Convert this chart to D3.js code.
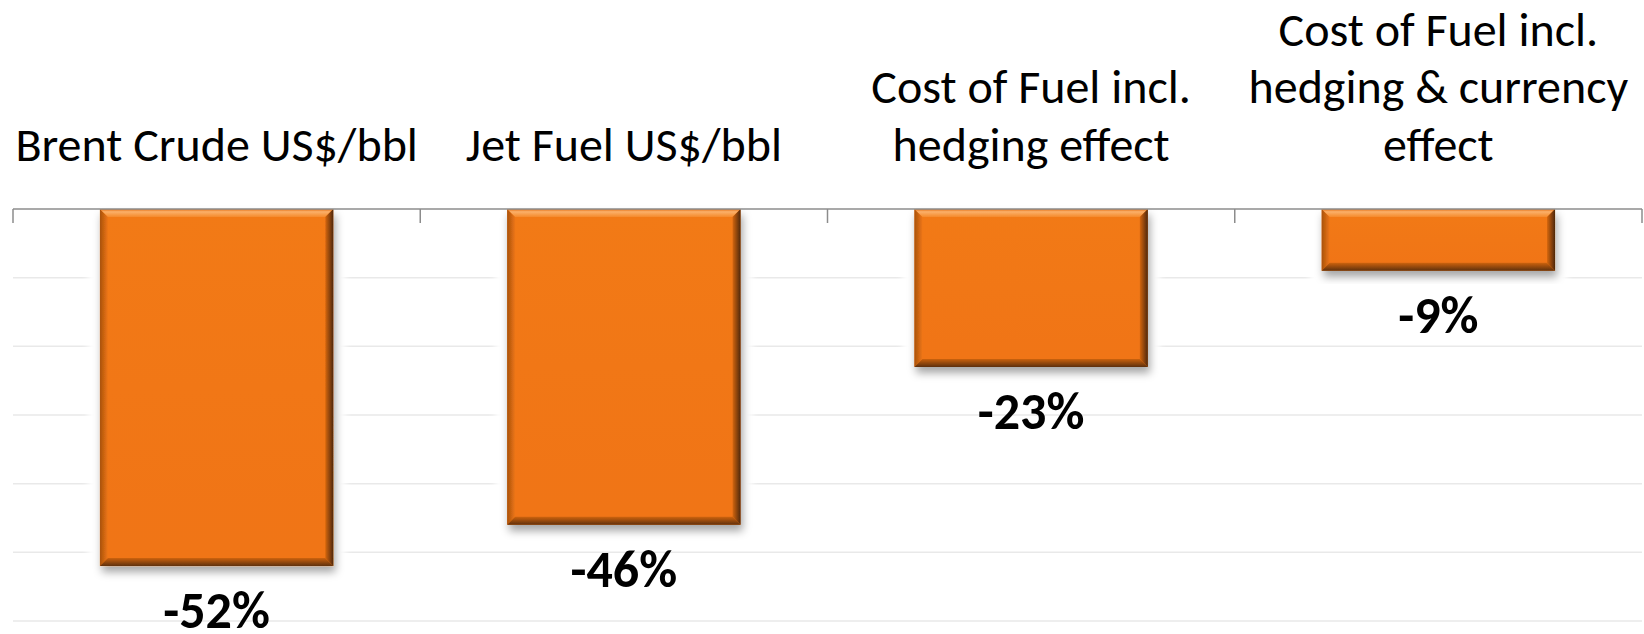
<!DOCTYPE html>
<html>
<head>
<meta charset="utf-8">
<script src="https://cdn.jsdelivr.net/npm/d3@7"></script>
<style>
  html, body { margin: 0; padding: 0; background: #ffffff; }
  svg { display: block; }
</style>
</head>
<body>
<svg id="chart" width="1644" height="634"></svg>
<script>
// ---- data ----
const categories = [
  "Brent Crude US$/bbl",
  "Jet Fuel US$/bbl",
  "Cost of Fuel incl.\nhedging effect",
  "Cost of Fuel incl.\nhedging & currency\neffect"
];
const values = [-52, -46, -23, -9];
const valueLabels = ["-52%", "-46%", "-23%", "-9%"];
const yTicks = [0, -10, -20, -30, -40, -50, -60];

// ---- layout ----
const W = 1644, H = 634;
const left = 13, right = 1642, zeroY = 209, bottomY = 621;
const FONT = "Carlito, Calibri, 'Liberation Sans Narrow', Lato, 'Open Sans', sans-serif";

const svg = d3.select("#chart");
svg.append("rect").attr("width", W).attr("height", H).attr("fill", "#fff");

const x = d3.scaleBand().domain(categories).range([left, right])
  .paddingInner(0.427).paddingOuter(0.2135);
const y = d3.scaleLinear().domain([-60, 0]).range([bottomY, zeroY]);

const defs = svg.append("defs");
function lg(id, x1, y1, x2, y2, stops) {
  const g = defs.append("linearGradient").attr("id", id)
    .attr("x1", x1).attr("y1", y1).attr("x2", x2).attr("y2", y2);
  stops.forEach(s => g.append("stop").attr("offset", s[0]).attr("stop-color", s[1]));
}
lg("gTop", 0, 0, 0, 1, [[0, "#e36d10"], [0.35, "#fbb06a"], [1, "#f58a2a"]]);
lg("gRight", 0, 0, 1, 0, [[0, "#d4660f"], [1, "#4e2706"]]);
lg("gBottom", 0, 0, 0, 1, [[0, "#cc620f"], [1, "#5e3007"]]);
lg("gLeft", 0, 0, 1, 0, [[0, "#a9520c"], [1, "#ee7616"]]);
lg("gBody", 0, 0, 0, 1, [[0, "#f27a18"], [1, "#f07414"]]);

const shadow = defs.append("filter").attr("id", "shadow")
  .attr("x", "-10%").attr("y", "-10%").attr("width", "130%").attr("height", "130%");
shadow.append("feDropShadow").attr("dx", 2).attr("dy", 6).attr("stdDeviation", 4)
  .attr("flood-color", "#000").attr("flood-opacity", 0.35);
const glow = defs.append("filter").attr("id", "glow")
  .attr("x", "-20%").attr("y", "-20%").attr("width", "140%").attr("height", "140%");
glow.append("feGaussianBlur").attr("stdDeviation", 3);

// ---- gridlines ----
svg.append("g").selectAll("line").data(yTicks.filter(d => d !== 0)).join("line")
  .attr("x1", left).attr("x2", right)
  .attr("y1", d => y(d)).attr("y2", d => y(d))
  .attr("stroke", "#e9e9e9").attr("stroke-width", 1.5);

// ---- bars ----
const bars = svg.append("g").selectAll("g").data(values).join("g");
const bx = (d, i) => x(categories[i]);
const bw = x.bandwidth();

// white halo covering gridlines
bars.append("rect")
  .attr("x", (d, i) => bx(d, i) - 12).attr("y", y(0))
  .attr("width", bw + 24).attr("height", d => y(d) - y(0) + 16)
  .attr("fill", "#fff").attr("filter", "url(#glow)");

const bev = 8;
bars.each(function (d, i) {
  const g = d3.select(this).append("g").attr("filter", "url(#shadow)");
  const x0 = bx(d, i), x1 = x0 + bw, y0 = y(0), y1 = y(d);
  const b = Math.min(bev, (y1 - y0) / 3);
  g.append("rect").attr("x", x0).attr("y", y0).attr("width", bw).attr("height", y1 - y0)
    .attr("fill", "url(#gBody)");
  const poly = (pts, fill) => g.append("polygon")
    .attr("points", pts.map(p => p.join(",")).join(" ")).attr("fill", fill);
  poly([[x0, y0], [x0, y1], [x0 + b, y1 - b], [x0 + b, y0 + b]], "url(#gLeft)");
  poly([[x0, y0], [x1, y0], [x1 - b, y0 + b], [x0 + b, y0 + b]], "url(#gTop)");
  poly([[x0, y1], [x1, y1], [x1 - b, y1 - b], [x0 + b, y1 - b]], "url(#gBottom)");
  poly([[x1, y0], [x1, y1], [x1 - b, y1 - b], [x1 - b, y0 + b]], "url(#gRight)");
});

// ---- zero axis with ticks ----
const axisG = svg.append("g");
axisG.append("line").attr("x1", left).attr("x2", right)
  .attr("y1", y(0)).attr("y2", y(0)).attr("stroke", "#8c8c8c").attr("stroke-width", 1.5);
const boundaries = categories.map(c => x(c) - x.step() * x.paddingInner() / 2)
  .concat([right]);
boundaries[0] = left;
axisG.selectAll("line.tick").data(boundaries).join("line").attr("class", "tick")
  .attr("x1", d => d).attr("x2", d => d)
  .attr("y1", y(0)).attr("y2", y(0) + 14)
  .attr("stroke", "#8c8c8c").attr("stroke-width", 1.5);

// ---- category labels ----
const lineH = 57.7, lastBase = 161;
const catG = svg.append("g");
categories.forEach((c, i) => {
  const lines = c.split("\n");
  const t = catG.append("text")
    .attr("x", x(c) + bw / 2).attr("text-anchor", "middle")
    .attr("font-family", FONT).attr("font-size", 48).attr("fill", "#000");
  lines.forEach((ln, k) => {
    t.append("tspan").attr("x", x(c) + bw / 2)
      .attr("y", lastBase - (lines.length - 1 - k) * lineH).text(ln);
  });
});

// ---- value labels ----
svg.append("g").selectAll("text").data(values).join("text")
  .attr("x", (d, i) => bx(d, i) + bw / 2)
  .attr("y", d => y(d) + 62)
  .attr("text-anchor", "middle")
  .attr("font-family", FONT).attr("font-size", 52).attr("font-weight", "bold")
  .attr("fill", "#000")
  .text((d, i) => valueLabels[i]);
</script>
</body>
</html>
